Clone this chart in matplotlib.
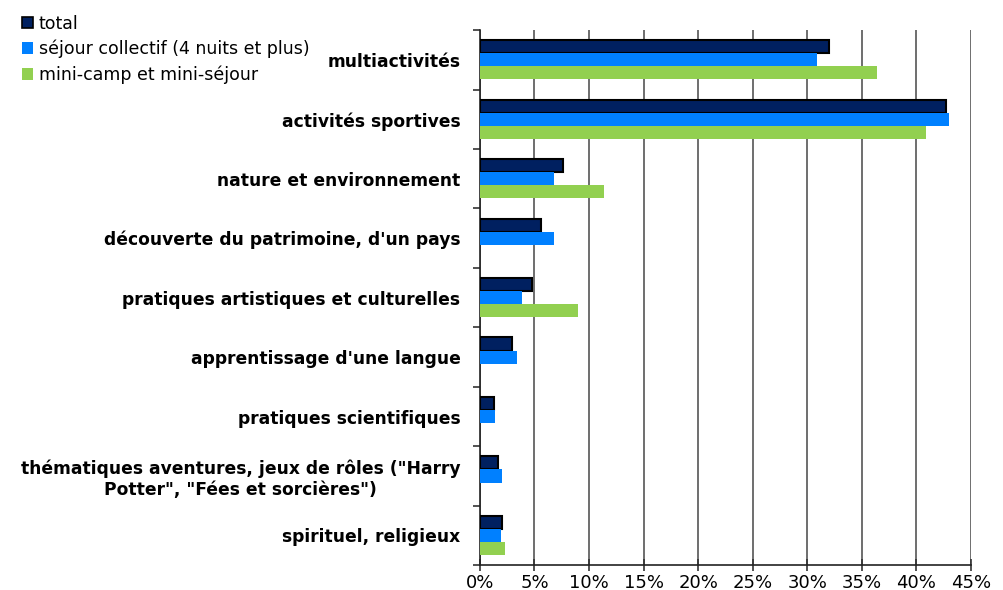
import numpy as np
import matplotlib.pyplot as plt
from matplotlib.patches import Patch

plt.rcParams['font.family'] = ['DejaVu Sans']

# Themes of stays, top to bottom
categories = [
    'multiactivités',
    'activités sportives',
    'nature et environnement',
    "découverte du patrimoine, d'un pays",
    'pratiques artistiques et culturelles',
    "apprentissage d'une langue",
    'pratiques scientifiques',
    'thématiques aventures, jeux de rôles ("Harry\nPotter", "Fées et sorcières")',
    'spirituel, religieux',
]

# Shares in %
total = [32.0, 42.7, 7.6, 5.6, 4.8, 2.9, 1.3, 1.7, 2.0]
sejour_collectif = [30.9, 43.0, 6.8, 6.8, 3.9, 3.4, 1.4, 2.0, 1.9]
mini_camp = [36.4, 40.9, 11.4, 0, 9.0, 0, 0, 0, 2.3]

series = [
    ('total', total, '#002060', 'black'),
    ('séjour collectif (4 nuits et plus)', sejour_collectif, '#0080FF', '#0080FF'),
    ('mini-camp et mini-séjour', mini_camp, '#92D050', '#92D050'),
]

fig = plt.figure(figsize=(10.04, 5.9), dpi=100)
ax = fig.add_axes([0.478, 0.042, 0.489, 0.907])

n = len(categories)
y = np.arange(n)
bh = 0.22
for k, (name, vals, fc, ec) in enumerate(series):
    ax.barh(y + (k - 1) * bh, vals, height=bh, color=fc,
            edgecolor=ec, linewidth=1.5 if k == 0 else 0, zorder=3)

ax.set_xlim(0, 45)
ax.set_ylim(n - 0.5, -0.5)
ax.set_xticks(np.arange(0, 46, 5))
ax.set_xticklabels([f'{v}%' for v in range(0, 46, 5)], fontsize=13)
ax.xaxis.grid(True, color='#555555', linewidth=1.2, zorder=0)

ax.set_yticks(y)
ax.set_yticklabels(categories, fontsize=12.3, fontweight='bold')
for lbl in ax.get_yticklabels():
    lbl.set_multialignment('center')
ax.set_yticks(np.arange(-0.5, n, 1), minor=True)
ax.tick_params(axis='y', which='major', length=0, pad=14)
ax.tick_params(axis='y', which='minor', length=5, width=1.2, color='#333333')
ax.tick_params(axis='x', direction='inout', length=8, width=1.2, color='#333333', pad=2)

for s in ['top', 'right']:
    ax.spines[s].set_visible(False)
for s in ['left', 'bottom']:
    ax.spines[s].set_color('#222222')
    ax.spines[s].set_linewidth(1.2)

handles = [Patch(facecolor=fc, edgecolor=ec, linewidth=1.2 if i == 0 else 0)
           for i, (_, _, fc, ec) in enumerate(series)]
fig.legend(handles, [s[0] for s in series], loc='upper left',
           bbox_to_anchor=(0.010, 0.996), frameon=False, fontsize=12.5,
           handlelength=0.65, handleheight=0.65, handletextpad=0.3,
           labelspacing=0.42, borderaxespad=0.3)

fig.savefig('out.png', dpi=100)
